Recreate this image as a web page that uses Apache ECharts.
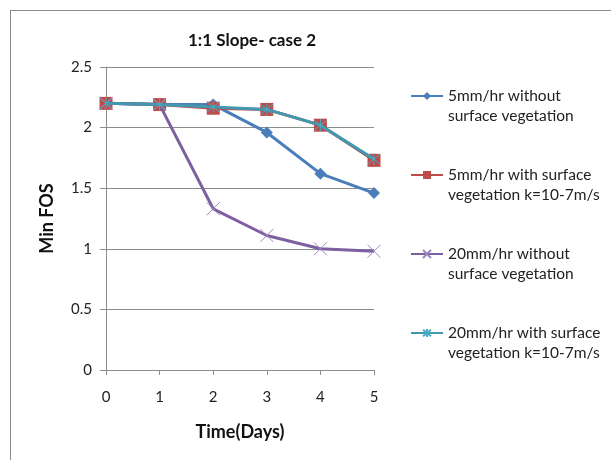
<!DOCTYPE html>
<html>
<head>
<meta charset="utf-8">
<script src="https://cdn.jsdelivr.net/npm/echarts@6/dist/echarts.min.js"></script>
<style>
  html, body { margin: 0; padding: 0; background: #fff; }
  #frame { position: absolute; left: 10px; top: 10px; width: 620px; height: 470px; border: 1px solid #8c8c8c; }
  #chart { position: absolute; left: 0; top: 0; width: 611px; height: 460px; }
</style>
</head>
<body>
<div id="frame"></div>
<div id="chart"></div>
<script>
// Time in days
const days = ['0', '1', '2', '3', '4', '5'];

// Minimum factor of safety for each rainfall / vegetation case
const noVeg5 = [2.2, 2.19, 2.19, 1.96, 1.62, 1.46];
const veg5 = [2.2, 2.19, 2.16, 2.15, 2.02, 1.73];
const noVeg20 = [2.2, 2.19, 1.33, 1.11, 1.0, 0.98];
const veg20 = [2.2, 2.19, 2.17, 2.15, 2.02, 1.74];

const names = [
  '5mm/hr without\nsurface vegetation',
  '5mm/hr with surface\nvegetation k=10-7m/s',
  '20mm/hr without\nsurface vegetation',
  '20mm/hr with surface\nvegetation k=10-7m/s'
];

const FONT = 'Lato, "Open Sans", sans-serif';
const LH = 20;

const crossPath = 'path://M0,0L10,10M10,0L0,10';
const starPath = 'path://M0,0L10,10M10,0L0,10M5,-1L5,11';

// One legend block per series; a leading blank line keeps the
// first text line level with the legend icon.
function legendAt(name, iconCenterY) {
  return {
    data: [name],
    left: 410,
    top: iconCenterY - 1.5 * LH,
    orient: 'vertical',
    itemWidth: 32,
    itemHeight: 10,
    itemGap: 0,
    padding: 0,
    selectedMode: false,
    formatter: n => '\u00a0\n' + n,
    textStyle: {
      fontFamily: FONT,
      fontSize: 15.5,
      color: '#222',
      lineHeight: LH
    }
  };
}

const chart = echarts.init(document.getElementById('chart'), null, { renderer: 'canvas' });

chart.setOption({
  backgroundColor: 'transparent',
  animation: false,
  title: {
    text: '1:1 Slope- case 2',
    left: 247,
    textAlign: 'center',
    top: 27,
    textStyle: { fontFamily: FONT, fontSize: 17, fontWeight: 'bold', color: '#111' }
  },
  legend: [
    legendAt(names[0], 96),
    legendAt(names[1], 175),
    legendAt(names[2], 254),
    legendAt(names[3], 333)
  ],
  grid: { left: 106, right: 237, top: 67, bottom: 90, containLabel: false },
  xAxis: {
    type: 'category',
    data: days,
    boundaryGap: false,
    name: 'Time(Days)',
    nameLocation: 'middle',
    nameGap: 53,
    nameTextStyle: { fontFamily: FONT, fontSize: 18, fontWeight: 'bold', color: '#111' },
    axisLine: { lineStyle: { color: '#8c8c8c', width: 1 } },
    axisTick: { show: true, length: 5, alignWithLabel: true, lineStyle: { color: '#8c8c8c' } },
    axisLabel: { fontFamily: FONT, fontSize: 15, color: '#222', margin: 20 },
    splitLine: { show: false }
  },
  yAxis: {
    type: 'value',
    min: 0,
    max: 2.5,
    interval: 0.5,
    name: 'Min FOS',
    nameLocation: 'middle',
    nameGap: 50,
    nameRotate: 90,
    nameTextStyle: { fontFamily: FONT, fontSize: 18, fontWeight: 'bold', color: '#111' },
    axisLine: { show: true, lineStyle: { color: '#8c8c8c', width: 1 } },
    axisTick: { show: true, length: 6, lineStyle: { color: '#8c8c8c' } },
    axisLabel: { fontFamily: FONT, fontSize: 15, color: '#222', margin: 14 },
    splitLine: { show: true, lineStyle: { color: '#8c8c8c', width: 1 } }
  },
  series: [
    {
      name: names[0],
      type: 'line',
      data: noVeg5,
      symbol: 'diamond',
      symbolSize: 12,
      lineStyle: { color: '#4A7EBB', width: 3 },
      itemStyle: { color: '#4A7EBB' },
      z: 2
    },
    {
      name: names[1],
      type: 'line',
      data: veg5,
      symbol: 'rect',
      symbolSize: 13,
      lineStyle: { color: '#BE4B48', width: 3 },
      itemStyle: { color: '#BE4B48' },
      z: 3
    },
    {
      name: names[2],
      type: 'line',
      data: noVeg20,
      symbol: crossPath,
      symbolSize: 13,
      lineStyle: { color: '#7D60A0', width: 3 },
      itemStyle: { color: 'none', borderColor: '#9b88c0', borderWidth: 1 },
      z: 4
    },
    {
      name: names[3],
      type: 'line',
      data: veg20,
      symbol: starPath,
      symbolSize: 12,
      lineStyle: { color: '#4198AF', width: 3 },
      itemStyle: { color: 'none', borderColor: '#4BACC6', borderWidth: 1 },
      z: 5
    }
  ]
});
</script>
</body>
</html>
